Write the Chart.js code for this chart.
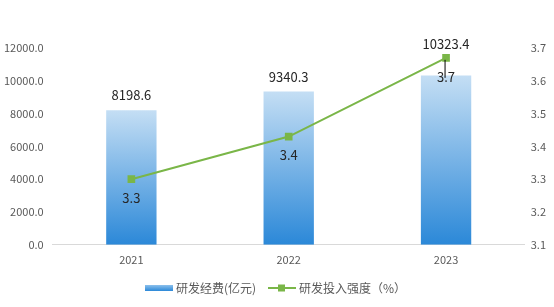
<!DOCTYPE html>
<html>
<head>
<meta charset="utf-8">
<script src="https://cdn.jsdelivr.net/npm/chart.js@4"></script>
<style>
  html, body { margin: 0; padding: 0; background: #fff; }
  #wrap { width: 554px; height: 307px; position: relative; }
</style>
</head>
<body>
<div id="wrap"><canvas id="rdChart"></canvas></div>
<script>
// Données
const years = ['2021', '2022', '2023'];
const rdSpending = [8198.6, 9340.3, 10323.4];     // 研发经费(亿元)
const rdIntensity = [3.30, 3.43, 3.67];            // 研发投入强度(%)
const intensityLabels = ['3.3', '3.4', '3.7'];

const textColor = '#595959';
const lineColor = '#7ab648';
const fontFamily = '"Noto Sans CJK SC", "Noto Sans", sans-serif';

function barGradient(context) {
    const chart = context.chart;
    const yScale = chart.scales.y;
    if (!yScale || !context.parsed) return '#5aa5e3';
    const top = yScale.getPixelForValue(context.parsed.y);
    const bottom = yScale.getPixelForValue(0);
    if (!isFinite(top) || !isFinite(bottom) || top === bottom) return '#5aa5e3';
    const g = chart.ctx.createLinearGradient(0, top, 0, bottom);
    g.addColorStop(0, '#c4def4');
    g.addColorStop(1, '#2b88d8');
    return g;
}

// Étiquettes et légende dessinées à la main
const labelPlugin = {
    id: 'labelPlugin',
    afterDatasetsDraw(chart) {
        const ctx = chart.ctx;
        ctx.save();
        ctx.textAlign = 'center';
        ctx.textBaseline = 'middle';
        ctx.font = '13px ' + fontFamily;
        ctx.fillStyle = '#262626';

        const barMeta = chart.getDatasetMeta(1);
        barMeta.data.forEach((bar, i) => {
            let y = bar.y - 15;
            if (i === 2) y = bar.y - 31;
            ctx.fillText(rdSpending[i].toFixed(1), bar.x, y);
        });

        const lineMeta = chart.getDatasetMeta(0);
        lineMeta.data.forEach((pt, i) => {
            const y = pt.y + 19;
            if (i === 2) {
                ctx.strokeStyle = '#000';
                ctx.lineWidth = 1;
                ctx.beginPath();
                ctx.moveTo(pt.x - 1, pt.y + 2);
                ctx.lineTo(pt.x - 1, pt.y + 20);
                ctx.stroke();
            }
            ctx.fillText(intensityLabels[i], pt.x, y);
        });

        // Légende
        const ly = 288;
        ctx.font = '12px ' + fontFamily;
        ctx.textAlign = 'left';
        const g = ctx.createLinearGradient(0, ly - 3, 0, ly + 3);
        g.addColorStop(0, '#8cc0ec');
        g.addColorStop(1, '#2b88d8');
        ctx.fillStyle = g;
        ctx.fillRect(145, ly - 3, 28, 6);
        ctx.fillStyle = textColor;
        ctx.fillText('研发经费(亿元)', 176, ly);
        ctx.strokeStyle = lineColor;
        ctx.lineWidth = 2;
        ctx.beginPath();
        ctx.moveTo(268, ly);
        ctx.lineTo(296, ly);
        ctx.stroke();
        ctx.fillStyle = lineColor;
        ctx.fillRect(278, ly - 3.5, 7, 7);
        ctx.fillStyle = textColor;
        ctx.fillText('研发投入强度（%）', 299, ly);
        ctx.restore();
    }
};

new Chart(document.getElementById('rdChart'), {
    data: {
        labels: years,
        datasets: [
            {
                type: 'line',
                label: '研发投入强度（%）',
                data: rdIntensity,
                yAxisID: 'y1',
                borderColor: lineColor,
                backgroundColor: lineColor,
                borderWidth: 2,
                pointStyle: 'rect',
                pointRadius: 4,
                tension: 0,
                order: 0
            },
            {
                type: 'bar',
                label: '研发经费(亿元)',
                data: rdSpending,
                yAxisID: 'y',
                backgroundColor: barGradient,
                categoryPercentage: 1,
                barPercentage: 0.32,
                order: 1
            }
        ]
    },
    options: {
        responsive: true,
        maintainAspectRatio: false,
        animation: false,
        layout: {
            padding: { left: -5, right: 2, top: 48, bottom: 33 }
        },
        plugins: {
            legend: { display: false },
            tooltip: { enabled: false }
        },
        scales: {
            x: {
                grid: { display: false, drawTicks: false },
                border: { display: true, color: '#d9d9d9' },
                ticks: {
                    color: textColor,
                    font: { size: 11, family: fontFamily },
                    padding: 8
                }
            },
            y: {
                position: 'left',
                min: 0,
                max: 12000,
                grid: { display: false, drawTicks: false },
                border: { display: false },
                ticks: {
                    stepSize: 2000,
                    color: textColor,
                    font: { size: 11, family: fontFamily },
                    padding: 9,
                    callback: v => Number(v).toFixed(1)
                }
            },
            y1: {
                position: 'right',
                min: 3.1,
                max: 3.7,
                grid: { display: false, drawTicks: false },
                border: { display: false },
                ticks: {
                    stepSize: 0.1,
                    color: textColor,
                    font: { size: 11, family: fontFamily },
                    padding: 6,
                    callback: v => Number(v).toFixed(1)
                }
            }
        }
    },
    plugins: [labelPlugin]
});
</script>
</body>
</html>
